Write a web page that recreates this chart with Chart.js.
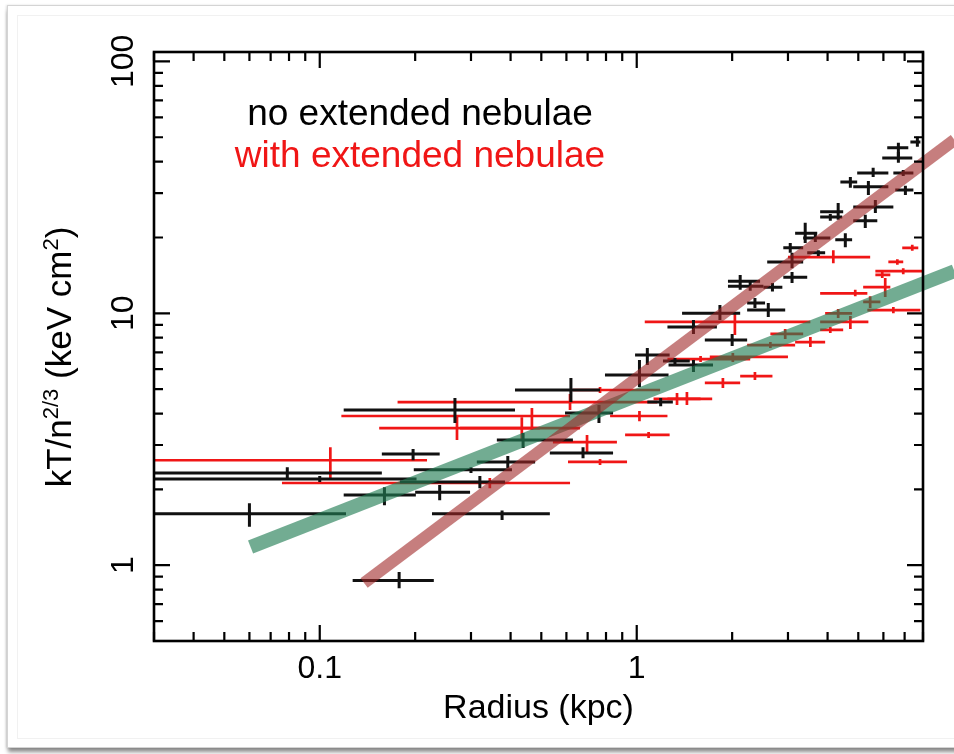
<!DOCTYPE html>
<html>
<head>
<meta charset="utf-8">
<title>Entropy profile</title>
<script src="https://cdn.jsdelivr.net/npm/chart.js@4.4.1/dist/chart.umd.min.js"></script>
<style>
  html, body { margin: 0; padding: 0; background: #fff; }
  body { width: 954px; height: 754px; position: relative; overflow: hidden; }
  .card {
    position: absolute; left: 7px; top: 5px; width: 1000px; height: 741px;
    background: #fff; border: 1px solid #d4d4d4;
    box-shadow: 0 5px 4px -1px rgba(0, 0, 0, 0.45), -1px 0 2px rgba(0, 0, 0, 0.12);
  }
  .inner { position: absolute; left: 17px; top: 15px; width: 1000px; height: 722px; border: 1px solid #f1f1f1; }
  #wrap { position: absolute; left: 0; top: 0; width: 954px; height: 754px; }
</style>
</head>
<body>
<div class="card"></div>
<div class="inner"></div>
<div id="wrap"><canvas id="chart" width="954" height="754"></canvas></div>
<script>
// --- data (radius in kpc, K = kT/n^2/3 in keV cm^2) ---

// no extended nebulae (black)
const blackR    = [0.060, 0.079, 0.100, 0.160, 0.178, 0.197, 0.239, 0.267, 0.300, 0.320, 0.376, 0.392, 0.438, 0.620, 0.677, 0.760, 1.02, 1.08, 1.19, 1.32, 1.51, 1.51, 1.83, 2.00, 2.12, 2.28, 2.36, 2.60, 2.68, 3.05, 3.09, 3.09, 3.40, 3.66, 3.74, 4.08, 4.32, 4.55, 4.72, 5.26, 5.38, 5.57, 5.66, 6.69, 6.69, 6.93, 7.04, 7.68];
const blackRLo  = [0.02, 0.02, 0.02, 0.119, 0.127, 0.157, 0.200, 0.119, 0.198, 0.179, 0.226, 0.313, 0.362, 0.413, 0.532, 0.594, 0.794, 0.988, 1.08, 1.21, 1.26, 1.25, 1.39, 1.64, 1.94, 1.94, 2.23, 2.23, 2.51, 2.90, 2.58, 2.90, 3.16, 3.35, 3.45, 3.79, 3.79, 4.23, 4.39, 4.82, 4.82, 4.96, 4.82, 6.17, 5.95, 6.45, 6.54, 7.30];
const blackRHi  = [0.121, 0.157, 0.202, 0.201, 0.229, 0.239, 0.298, 0.413, 0.404, 0.384, 0.532, 0.478, 0.629, 0.766, 0.842, 0.842, 1.26, 1.27, 1.30, 1.47, 1.74, 1.79, 2.12, 2.23, 2.45, 2.51, 2.54, 2.94, 2.88, 3.35, 3.35, 3.45, 3.71, 4.08, 3.93, 4.45, 4.48, 4.78, 4.96, 5.74, 6.22, 6.22, 6.45, 7.19, 7.40, 7.46, 7.46, 7.85];
const blackK    = [1.60, 2.32, 2.20, 1.90, 0.87, 2.76, 1.95, 4.13, 2.39, 2.14, 1.60, 2.57, 3.14, 4.96, 2.79, 4.02, 5.69, 6.83, 4.44, 6.46, 6.23, 8.82, 10.0, 7.83, 13.4, 12.8, 11.0, 10.3, 12.7, 18.2, 16.0, 13.9, 20.8, 19.9, 17.4, 24.1, 25.3, 19.6, 33.2, 23.3, 31.8, 36.1, 26.4, 45.4, 41.4, 36.1, 30.9, 47.9];
const blackKLo  = [1.42, 2.18, 2.14, 1.73, 0.81, 2.61, 1.81, 3.67, 2.32, 2.02, 1.51, 2.43, 2.92, 4.44, 2.66, 3.67, 5.10, 6.23, 4.28, 6.29, 5.85, 8.28, 9.41, 7.42, 12.4, 12.3, 10.5, 9.67, 12.2, 17.4, 15.1, 13.2, 19.0, 19.2, 16.9, 23.3, 23.5, 18.3, 31.5, 21.8, 29.5, 34.8, 25.0, 41.8, 39.6, 35.1, 29.5, 45.8];
const blackKHi  = [1.76, 2.45, 2.26, 2.04, 0.94, 2.89, 2.08, 4.61, 2.45, 2.26, 1.65, 2.71, 3.35, 5.53, 2.94, 4.32, 6.52, 7.28, 4.61, 6.64, 6.52, 9.41, 10.8, 8.28, 14.2, 13.4, 11.5, 11.0, 13.2, 19.0, 17.4, 14.6, 22.9, 20.7, 17.8, 24.8, 27.4, 20.8, 34.8, 24.6, 33.5, 37.8, 28.2, 47.5, 43.7, 37.1, 32.1, 50.2];

// with extended nebulae (red)
const redR      = [0.108, 0.271, 0.344, 0.434, 0.467, 0.616, 0.697, 0.766, 0.766, 1.02, 1.09, 1.34, 1.44, 1.59, 1.87, 2.01, 2.04, 2.36, 2.64, 2.94, 3.53, 4.08, 4.17, 4.32, 4.72, 4.89, 5.45, 5.95, 6.08, 6.45, 6.64, 6.93, 7.40];
const redRLo    = [0.02, 0.154, 0.076, 0.277, 0.117, 0.176, 0.544, 0.629, 0.607, 0.824, 0.919, 1.13, 1.25, 1.25, 1.64, 1.70, 1.06, 2.12, 2.23, 2.64, 3.16, 3.79, 3.00, 3.93, 3.79, 3.79, 5.18, 5.66, 5.18, 5.34, 6.22, 5.66, 6.88];
const redRHi    = [0.218, 0.495, 0.616, 0.662, 0.616, 1.16, 0.866, 1.185, 0.932, 1.25, 1.27, 1.59, 1.73, 2.28, 2.12, 3.00, 3.53, 2.68, 3.16, 3.35, 3.93, 4.48, 5.45, 4.78, 5.38, 5.34, 5.87, 6.31, 6.31, 7.85, 6.93, 7.96, 7.73];
const redK      = [2.61, 3.50, 2.12, 3.50, 3.91, 4.44, 3.08, 4.96, 2.57, 3.91, 3.29, 4.57, 4.57, 6.58, 5.29, 6.71, 9.24, 5.63, 7.48, 8.28, 7.69, 8.59, 16.7, 10.0, 9.24, 12.0, 11.1, 14.2, 12.7, 10.3, 16.0, 14.7, 18.2];
const redKLo    = [2.22, 3.14, 2.02, 3.14, 3.44, 4.13, 2.81, 4.83, 2.50, 3.73, 3.20, 4.32, 4.32, 6.41, 5.05, 6.41, 8.20, 5.43, 7.28, 7.91, 7.35, 8.35, 15.8, 9.58, 8.66, 11.7, 10.5, 13.8, 11.6, 10.0, 15.6, 14.3, 17.7];
const redKHi    = [2.94, 3.95, 2.22, 3.87, 4.21, 4.78, 3.29, 5.10, 2.64, 4.09, 3.38, 4.83, 4.87, 6.77, 5.53, 6.96, 10.1, 5.85, 7.69, 8.66, 8.05, 8.82, 17.8, 10.4, 9.76, 12.4, 11.7, 14.6, 13.8, 10.6, 16.4, 15.1, 18.7];

// the two thick fit lines
const steepFitR = [0.138, 10.05];
const steepFitK = [0.85, 48.8];
const flatFitR  = [0.0605, 10.05];
const flatFitK  = [1.18, 14.7];

// axis ranges and labelled ticks
const xRange = [0.03, 8];
const yRange = [0.5, 109];
const xLabelValues = [0.1, 1];
const xLabels = ['0.1', '1'];
const yLabelValues = [1, 10, 100];
const yLabels = ['1', '10', '100'];

const legendLines = ['no extended nebulae', 'with extended nebulae'];

const FONT = '"Liberation Sans", Arial, Helvetica, sans-serif';
const RED = '#f01616';

function toPoints(r, rLo, rHi, k, kLo, kHi) {
  return r.map((v, i) => ({ x: v, y: k[i], xMin: rLo[i], xMax: rHi[i], yMin: kLo[i], yMax: kHi[i] }));
}

function logTicks(min, max) {
  const out = [];
  for (let e = Math.floor(Math.log10(min)); e <= Math.ceil(Math.log10(max)); e++) {
    for (let m = 1; m <= 9; m++) {
      const v = m * Math.pow(10, e);
      if (v >= min * 0.999 && v <= max * 1.001) out.push({ v, major: m === 1 });
    }
  }
  return out;
}

// crosses: horizontal = radial bin, vertical = K error
const errorBars = {
  id: 'errorBars',
  beforeDatasetsDraw(chart) {
    const { ctx, chartArea: a, scales: { x, y } } = chart;
    ctx.save();
    ctx.beginPath();
    ctx.rect(a.left, a.top, a.right - a.left, a.bottom - a.top);
    ctx.clip();
    chart.data.datasets.forEach((ds) => {
      if (!ds.errorBars) return;
      ctx.strokeStyle = ds.borderColor;
      ctx.lineWidth = ds.errorWidth;
      ds.data.forEach((p) => {
        const px = x.getPixelForValue(p.x);
        const py = y.getPixelForValue(p.y);
        ctx.beginPath();
        ctx.moveTo(x.getPixelForValue(p.xMin), py);
        ctx.lineTo(x.getPixelForValue(p.xMax), py);
        ctx.moveTo(px, y.getPixelForValue(p.yMin));
        ctx.lineTo(px, y.getPixelForValue(p.yMax));
        ctx.stroke();
      });
    });
    ctx.restore();
  }
};

function drawRich(ctx, parts, size) {
  // draws a horizontal run of text with superscripts, centred on 0
  const supSize = Math.round(size * 0.62);
  let total = 0;
  parts.forEach((p) => {
    ctx.font = `${p.sup ? supSize : size}px ${FONT}`;
    p.w = ctx.measureText(p.t).width;
    total += p.w;
  });
  let pos = -total / 2;
  parts.forEach((p) => {
    ctx.font = `${p.sup ? supSize : size}px ${FONT}`;
    ctx.fillText(p.t, pos, p.sup ? -size * 0.36 : 0);
    pos += p.w;
  });
}

const axesFrame = {
  id: 'axesFrame',
  afterDraw(chart) {
    const { ctx, chartArea: a, scales: { x, y } } = chart;
    ctx.save();
    ctx.strokeStyle = '#000';
    ctx.fillStyle = '#000';

    // inward ticks on all four sides
    ctx.lineWidth = 2.2;
    logTicks(xRange[0], xRange[1]).forEach((t) => {
      const px = x.getPixelForValue(t.v);
      const len = t.major ? 16 : 9;
      ctx.beginPath();
      ctx.moveTo(px, a.bottom); ctx.lineTo(px, a.bottom - len);
      ctx.moveTo(px, a.top); ctx.lineTo(px, a.top + len);
      ctx.stroke();
    });
    logTicks(yRange[0], yRange[1]).forEach((t) => {
      const py = y.getPixelForValue(t.v);
      const len = t.major ? 16 : 9;
      ctx.beginPath();
      ctx.moveTo(a.left, py); ctx.lineTo(a.left + len, py);
      ctx.moveTo(a.right, py); ctx.lineTo(a.right - len, py);
      ctx.stroke();
    });

    ctx.lineWidth = 2.6;
    ctx.strokeRect(a.left, a.top, a.right - a.left, a.bottom - a.top);

    // x tick labels
    ctx.font = `32px ${FONT}`;
    ctx.textAlign = 'center';
    ctx.textBaseline = 'alphabetic';
    xLabelValues.forEach((v, i) => {
      ctx.fillText(xLabels[i], x.getPixelForValue(v), a.bottom + 37);
    });

    // y tick labels, rotated
    yLabelValues.forEach((v, i) => {
      ctx.save();
      ctx.translate(a.left - 21, y.getPixelForValue(v));
      ctx.rotate(-Math.PI / 2);
      ctx.fillText(yLabels[i], 0, 0);
      ctx.restore();
    });

    // axis titles
    ctx.font = `34px ${FONT}`;
    ctx.fillText('Radius (kpc)', (a.left + a.right) / 2, 718);

    ctx.save();
    ctx.translate(71, 357);
    ctx.rotate(-Math.PI / 2);
    ctx.textAlign = 'left';
    drawRich(ctx, [
      { t: 'kT/n' }, { t: '2/3', sup: true }, { t: ' (keV cm' }, { t: '2', sup: true }, { t: ')' }
    ], 35);
    ctx.restore();

    // in-plot labels
    ctx.font = `37px ${FONT}`;
    ctx.textAlign = 'center';
    ctx.fillStyle = '#000';
    ctx.fillText(legendLines[0], 420, 125);
    ctx.fillStyle = RED;
    ctx.fillText(legendLines[1], 420, 167);

    ctx.restore();
  }
};

new Chart(document.getElementById('chart'), {
  data: {
    datasets: [
      {
        type: 'line',
        label: 'steep fit',
        data: steepFitR.map((v, i) => ({ x: v, y: steepFitK[i] })),
        borderColor: 'rgba(160, 40, 40, 0.6)',
        borderWidth: 12,
        borderCapStyle: 'butt',
        pointRadius: 0,
        clip: false
      },
      {
        type: 'line',
        label: 'flat fit',
        data: flatFitR.map((v, i) => ({ x: v, y: flatFitK[i] })),
        borderColor: 'rgba(35, 125, 85, 0.64)',
        borderWidth: 14,
        borderCapStyle: 'butt',
        pointRadius: 0,
        clip: false
      },
      {
        type: 'scatter',
        label: legendLines[1],
        data: toPoints(redR, redRLo, redRHi, redK, redKLo, redKHi),
        borderColor: RED,
        errorBars: true,
        errorWidth: 2.7,
        pointRadius: 0
      },
      {
        type: 'scatter',
        label: legendLines[0],
        data: toPoints(blackR, blackRLo, blackRHi, blackK, blackKLo, blackKHi),
        borderColor: '#111',
        errorBars: true,
        errorWidth: 3,
        pointRadius: 0
      }
    ]
  },
  options: {
    responsive: false,
    devicePixelRatio: 1,
    animation: false,
    events: [],
    layout: { padding: { left: 154, top: 52, right: 31, bottom: 113 } },
    plugins: { legend: { display: false }, tooltip: { enabled: false } },
    scales: {
      x: { type: 'logarithmic', min: xRange[0], max: xRange[1], display: false },
      y: { type: 'logarithmic', min: yRange[0], max: yRange[1], display: false }
    }
  },
  plugins: [errorBars, axesFrame]
});
</script>
</body>
</html>
